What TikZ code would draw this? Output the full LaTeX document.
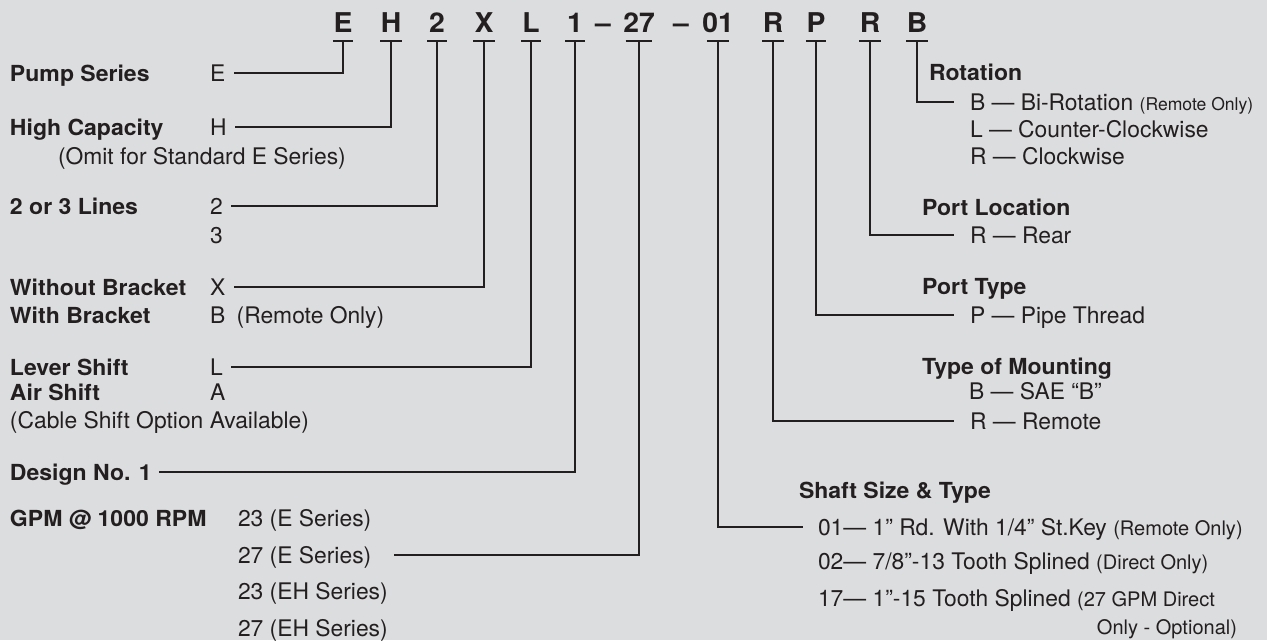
\documentclass[tikz,border=0pt]{standalone}
\usepackage{fontspec}
\setmainfont[BoldFeatures={FakeStretch=1.04}]{TeX Gyre Heros}
\usepackage{xcolor}
\usepackage{tikz}
\usetikzlibrary{positioning}
\definecolor{panel}{HTML}{DCDDDF}
\definecolor{ink}{HTML}{231F20}
\newcommand{\smallnote}[1]{{\fontsize{10}{12}\selectfont #1}}
\newcommand{\shaftnote}[1]{{\fontsize{11.4}{13}\selectfont #1}}

\begin{document}
\begin{tikzpicture}[x=0.02cm, y=-0.02cm,
  every node/.style={inner sep=0pt, outer sep=0pt, text=ink},
  digit/.style={font=\fontsize{15.5}{18}\selectfont\bfseries, anchor=base},
  field/.style={font=\fontsize{12.6}{15}\selectfont\bfseries, anchor=base west,
    text height=9pt, text depth=0pt},
  opt/.style={font=\fontsize{13}{15}\selectfont, anchor=base west,
    text height=9pt, text depth=0pt},
  link/.style={draw=ink, line width=0.7pt},
]
\fill[panel] (0,0) rectangle (1267,640);
\useasboundingbox (0,0) rectangle (1267,640);

\node[digit] (cSeries) at (343,32) {E};
\node[digit] (cCap) at (391,32) {H};
\node[digit] (cLines) at (437,32) {2};
\node[digit] (cBracket) at (484,32) {X};
\node[digit] (cShift) at (531,32) {L};
\node[digit] (cDesign) at (575,32) {1};
\node[digit] (dashA) at (603,32) {--};
\node[digit] (cGPM) at (639,32) {27};
\node[digit] (dashB) at (681,32) {--};
\node[digit] (cShaft) at (718,32) {01};
\node[digit] (cMount) at (773,32) {R};
\node[digit] (cPType) at (816,32) {P};
\node[digit] (cPLoc) at (870,32) {R};
\node[digit] (cRot) at (917,32) {B};

\coordinate (barline) at (0,41);
\foreach \c/\w in {Series/5.8, Cap/6.2, Lines/5.6, Bracket/6, Shift/5.6, Design/5.6,
    GPM/7.6, Shaft/6.3, Mount/6, PType/5.8, PLoc/6, Rot/6} {
  \coordinate (b\c) at (c\c.base |- barline);
  \draw[link] ([xshift=-\w pt]b\c) -- ([xshift=\w pt]b\c);
}

\node[field] (series) at (10,81) {Pump Series};
\node[opt] (vE) at (210,81) {E};
\node[field] (cap) at (10,135) {High Capacity};
\node[opt] (vH) at (210,135) {H};
\node[opt] (omit) at (58,164) {(Omit for Standard E Series)};
\node[field] (lines) at (10,214) {2 or 3 Lines};
\node[opt] (v2) at (210,214) {2};
\node[opt] (v3) at (210,243) {3};
\node[field] (nobracket) at (10,295) {Without Bracket};
\node[opt] (vX) at (210,295) {X};
\node[field] (bracket) at (10,323) {With Bracket};
\node[opt] (vB) at (210,323) {B\enspace(Remote Only)};
\node[field] (lever) at (10,375) {Lever Shift};
\node[opt] (vL) at (210,375) {L};
\node[field] (air) at (10,400) {Air Shift};
\node[opt] (vA) at (210,400) {A};
\node[opt] (cable) at (10,428) {(Cable Shift Option Available)};
\node[field] (design) at (10,480) {Design No. 1};
\node[field] (gpm) at (10,526) {GPM @ 1000 RPM};
\node[opt] (v23E) at (238,526) {23 (E Series)};
\node[opt] (v27E) at (238,563) {27 (E Series)};
\node[opt] (v23EH) at (238,599) {23 (EH Series)};
\node[opt] (v27EH) at (238,636) {27 (EH Series)};

\node[field] (rot) at (929,80) {Rotation};
\node[opt] (rB) at (970,110) {B --- Bi-Rotation \smallnote{(Remote Only)}};
\node[opt] (rL) at (970,137) {L --- Counter-Clockwise};
\node[opt] (rR) at (970,164) {R --- Clockwise};
\node[field] (ploc) at (922,215) {Port Location};
\node[opt] (lR) at (970,243) {R --- Rear};
\node[field] (ptype) at (922,294) {Port Type};
\node[opt] (pP) at (970,323) {P --- Pipe Thread};
\node[field] (mount) at (922,374) {Type of Mounting};
\node[opt] (mB) at (969,399) {B --- SAE “B”};
\node[opt] (mR) at (970,429) {R --- Remote};
\node[field] (shaft) at (799,498) {Shaft Size \& Type};
\node[opt] (s01) at (818,535) {01--- 1” Rd. With 1/4” St.Key \shaftnote{(Remote Only)}};
\node[opt] (s02) at (818,569) {02--- 7/8”-13 Tooth Splined \shaftnote{(Direct Only)}};
\node[opt] (s17) at (818,606) {17--- 1”-15 Tooth Splined \shaftnote{(27 GPM Direct}};
\node[opt, anchor=base east] (s17b) at (1237,634) {\shaftnote{Only - Optional)}};

\draw[link, shorten <=5pt] (vE.east) -| (bSeries);
\draw[link, shorten <=5pt] (vH.east) -| (bCap);
\draw[link, shorten <=5pt] (v2.east) -| (bLines);
\draw[link, shorten <=5pt] (vX.east) -| (bBracket);
\draw[link, shorten <=5pt] (vL.east) -| (bShift);
\draw[link, shorten <=4pt] (design.east) -| (bDesign);
\draw[link, shorten <=13pt] (v27E.east) -| (bGPM);
\draw[link, shorten >=8.5pt] (bShaft) |- (s01.west);
\draw[link, shorten >=9pt] (bMount) |- (mR.west);
\draw[link, shorten >=9pt] (bPType) |- (pP.west);
\draw[link, shorten >=9pt] (bPLoc) |- (lR.west);
\draw[link, shorten >=9pt] (bRot) |- (rB.west);
\end{tikzpicture}
\end{document}
